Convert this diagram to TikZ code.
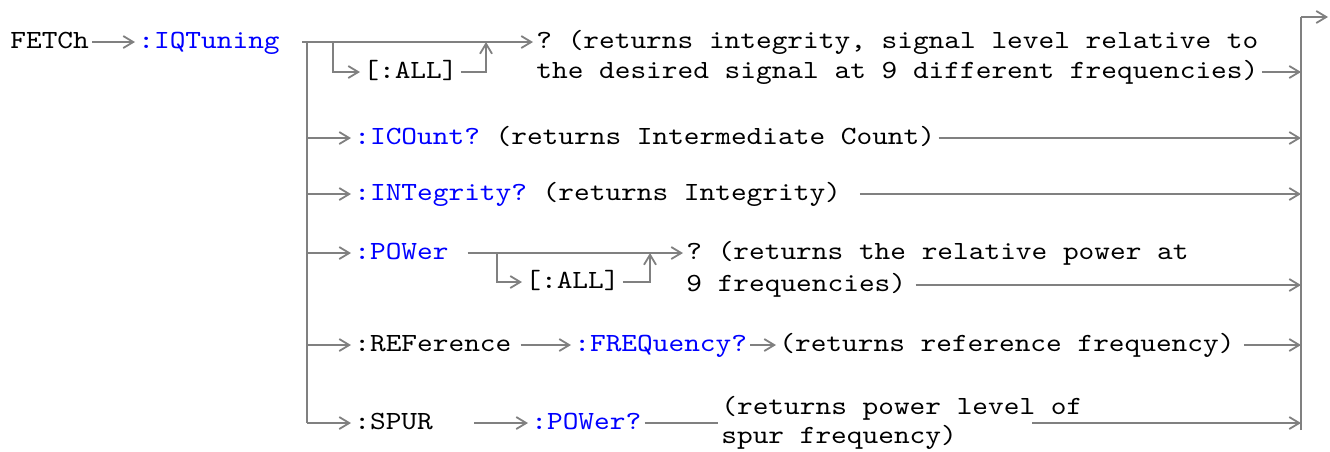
\documentclass[tikz,border=0pt]{standalone}
\usepackage{fontspec}
\newfontfamily\railfont{lmmono10-regular.otf}[FakeStretch=1.141]
\usepackage{xcolor}
\usetikzlibrary{arrows.meta}

\definecolor{cmdblue}{RGB}{0,0,255}
\definecolor{railgray}{RGB}{128,128,128}
\newcommand{\railgap}[1]{\kern#1}

\begin{document}
\begin{tikzpicture}[
    x=0.5pt, y=-0.5pt,
    >={Straight Barb[length=5pt,width=6pt]},
    kw/.style    = {anchor=west, inner xsep=1.5pt, inner ysep=0pt,
                    text height=6pt, text depth=0pt,
                    font=\railfont\fontsize{13.1}{14.75}\selectfont\frenchspacing},
    cmd/.style   = {kw, text=cmdblue},
    desc2/.style = {anchor=west, inner xsep=1.5pt, inner ysep=0pt, align=left,
                    font=\railfont\fontsize{13.1}{14.75}\selectfont\frenchspacing},
    rail/.style  = {draw=railgray, line width=0.9pt},
]
\useasboundingbox (0,0) rectangle (1330,451);

\node[kw]    (fetch)  at (7,42)    {FETCh};
\node[cmd]   (iqt)    at (135,42)  {:IQTuning};

\node[kw]    (q1a)    at (533,42)  {? (returns integrity, signal level relative to};
\node[kw]    (q1b)    at (533,72)  {the desired signal at 9 different frequencies)};
\node[kw]    (all1)   at (360,72)  {[:ALL]};

\node[kw]    (icount) at (351,138) {\textcolor{cmdblue}{:ICOunt?} (returns Intermediate Count)};
\node[kw]    (integ)  at (351,194) {\textcolor{cmdblue}{:INTegrity?} (returns Integrity)\railgap{7.8pt}};

\node[cmd]   (pow)    at (351,253) {:POWer\railgap{7.8pt}};
\node[kw]    (all2)   at (522,282) {[:ALL]};
\node[kw]    (q4a)    at (683,253) {? (returns the relative power at};
\node[kw]    (q4b)    at (683,285) {9 frequencies)\railgap{3pt}};

\node[kw]    (ref)    at (351,345) {:REFerence\railgap{3pt}};
\node[cmd]   (freq)   at (571,345) {:FREQuency?};
\node[kw]    (refq)   at (776,345) {(returns reference frequency)\railgap{3pt}};

\node[kw]    (spur)   at (351,423) {:SPUR\railgap{19pt}};
\node[cmd]   (spow)   at (528,423) {:POWer?};
\node[desc2] (spurq)  at (718,423) {(returns power level of\\spur frequency)};

\coordinate (split) at (302,42);
\coordinate (trtop) at (307,42);
\coordinate (trbot) at (307,423);
\coordinate (t2)    at (307,138);
\coordinate (t3)    at (307,194);
\coordinate (t4)    at (307,253);
\coordinate (t5)    at (307,345);
\coordinate (b1)    at (333,42);
\coordinate (j1)    at (486,42);
\coordinate (b4)    at (497,253);
\coordinate (j4)    at (650,253);
\coordinate (s6)    at (1032,423);
\coordinate (extop) at (1301,17);
\coordinate (exbot) at (1301,430);
\coordinate (out)   at (1328,17);
\coordinate (e1)    at (1301,72);
\coordinate (e2)    at (1301,138);
\coordinate (e3)    at (1301,194);
\coordinate (e4)    at (1301,285);
\coordinate (e5)    at (1301,345);
\coordinate (e6)    at (1301,423);

\draw[rail] (trtop) -- (trbot);
\draw[rail] (exbot) -- (extop);
\draw[rail,->] (extop) -- (out);

\draw[rail,->] (fetch) -- (iqt);
\draw[rail,->] (split) -- (q1a);
\draw[rail,->] (b1) |- (all1);
\draw[rail,->] (all1) -| (j1);
\draw[rail,->] (q1b) -- (e1);

\draw[rail,->] (t2) -- (icount);
\draw[rail,->] (icount) -- (e2);

\draw[rail,->] (t3) -- (integ);
\draw[rail,->] (integ) -- (e3);

\draw[rail,->] (t4) -- (pow);
\draw[rail,->] (pow) -- (q4a);
\draw[rail,->] (b4) |- (all2);
\draw[rail,->] (all2) -| (j4);
\draw[rail,->] (q4b) -- (e4);

\draw[rail,->] (t5) -- (ref);
\draw[rail,->] (ref) -- (freq);
\draw[rail,->] (freq) -- (refq);
\draw[rail,->] (refq) -- (e5);

\draw[rail,->] (trbot) -- (spur);
\draw[rail,->] (spur) -- (spow);
\draw[rail] (spow) -- (spurq);
\draw[rail,->] (s6) -- (e6);
\end{tikzpicture}
\end{document}
